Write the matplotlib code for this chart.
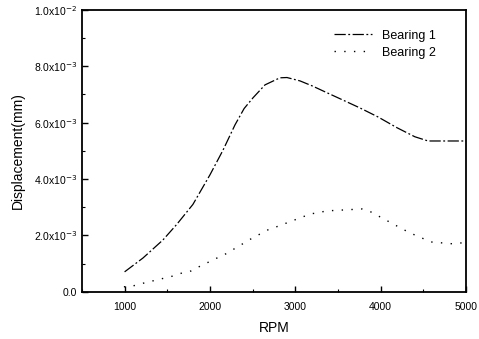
import matplotlib
matplotlib.use('Agg')
import matplotlib.pyplot as plt
from matplotlib.ticker import MultipleLocator

plt.rcParams['font.family'] = ['Liberation Sans', 'DejaVu Sans']

# Bearing 1 (dash-dot curve)
rpm_1 = [1000, 1215, 1449, 1613, 1800, 2000, 2152, 2293, 2400, 2504, 2645, 2820, 2902, 3055, 3200, 3371, 3558, 3758, 3970, 4191, 4400, 4555, 4750, 5000]
disp_1 = [0.00071, 0.0012, 0.00184, 0.0024, 0.0031, 0.00415, 0.00502, 0.00592, 0.0065, 0.00688, 0.00734, 0.00759, 0.0076, 0.00748, 0.0073, 0.00706, 0.0068, 0.00652, 0.0062, 0.00582, 0.0055, 0.00535, 0.00535, 0.00535]

# Bearing 2 (sparse dotted curve)
rpm_2 = [992, 1086, 1180, 1578, 1672, 1777, 1871, 2082, 2187, 2492, 2680, 2773, 3184, 3266, 3359, 3781, 3863, 4273, 4367, 4590, 4859, 4953]
disp_2 = [0.00018, 0.0002, 0.00028, 0.00057, 0.00067, 0.00074, 0.00089, 0.0012, 0.00135, 0.0019, 0.0022, 0.0023, 0.00277, 0.0028, 0.00287, 0.00294, 0.00287, 0.0022, 0.00206, 0.00177, 0.0017, 0.00174]

y_ticks = [0.0, 0.002, 0.004, 0.006, 0.008, 0.010]
y_labels = ['0.0', r'2.0x10$^{-3}$', r'4.0x10$^{-3}$', r'6.0x10$^{-3}$', r'8.0x10$^{-3}$', r'1.0x10$^{-2}$']

fig = plt.figure(figsize=(4.79, 3.39), dpi=100)
ax = fig.add_axes([0.171, 0.139, 0.802, 0.832])

ax.plot(rpm_1, disp_1, color='black', lw=0.9, linestyle=(0, (9, 2, 1.5, 2)), label='Bearing 1')
ax.plot(rpm_2, disp_2, color='black', lw=1.0, linestyle=(0, (1, 6)), label='Bearing 2')

ax.set_xlim(500, 5000)
ax.set_ylim(0, 0.01)
ax.set_xticks([1000, 2000, 3000, 4000, 5000])
ax.xaxis.set_minor_locator(MultipleLocator(500))
ax.set_yticks(y_ticks)
ax.set_yticklabels(y_labels)
ax.yaxis.set_minor_locator(MultipleLocator(0.001))
ax.tick_params(which='both', direction='in', labelsize=7.5)
ax.tick_params(axis='x', pad=7)
ax.tick_params(which='major', length=4, width=1.0)
ax.tick_params(which='minor', length=2.5, width=0.8)
for s in ax.spines.values():
    s.set_linewidth(1.3)

ax.set_xlabel('RPM', fontsize=10, labelpad=7)
ax.set_ylabel('Displacement(mm)', fontsize=10, labelpad=6)
ax.legend(loc='upper right', bbox_to_anchor=(0.95, 0.97), frameon=False, fontsize=9,
          handlelength=3, labelspacing=0.4)

fig.savefig('out.png', dpi=100)
